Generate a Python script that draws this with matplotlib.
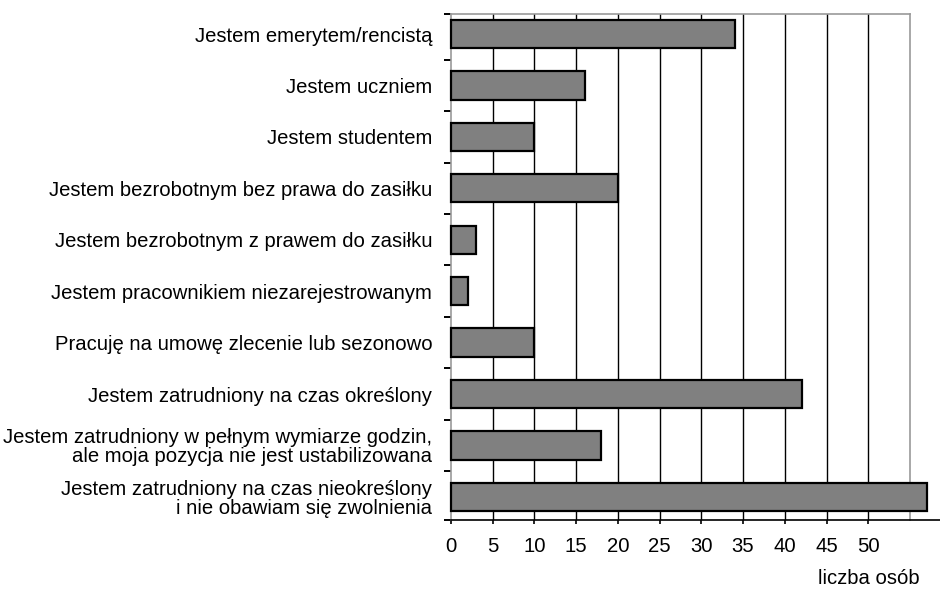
import numpy as np
import matplotlib.pyplot as plt

plt.rcParams['font.family'] = ['Liberation Sans', 'DejaVu Sans']

categories = [
    "Jestem emerytem/rencistą",
    "Jestem uczniem",
    "Jestem studentem",
    "Jestem bezrobotnym bez prawa do zasiłku",
    "Jestem bezrobotnym z prawem do zasiłku",
    "Jestem pracownikiem niezarejestrowanym",
    "Pracuję na umowę zlecenie lub sezonowo",
    "Jestem zatrudniony na czas określony",
    "Jestem zatrudniony w pełnym wymiarze godzin,\nale moja pozycja nie jest ustabilizowana",
    "Jestem zatrudniony na czas nieokreślony\ni nie obawiam się zwolnienia",
]
counts = [34, 16, 10, 20, 3, 2, 10, 42, 18, 57]
xticks = [0, 5, 10, 15, 20, 25, 30, 35, 40, 45, 50]

fig = plt.figure(figsize=(9.4, 5.9), dpi=100)
ax = fig.add_axes([451 / 940, 1 - 520 / 590, 459 / 940, 506 / 590])

y = np.arange(len(categories))
ax.set_xlim(0, 55)
ax.set_ylim(9.45, -0.39)

# vertical grid
for x in xticks[1:]:
    ax.axvline(x, color="black", lw=1.0, zorder=1)

ax.barh(y, counts, height=0.55, color="#808080", edgecolor="black",
        linewidth=1.6, zorder=3, clip_on=False)

for s in ["top", "right", "left"]:
    ax.spines[s].set_color("#999999")
    ax.spines[s].set_linewidth(1.2)
ax.spines["bottom"].set_visible(False)
ax.axhline(9.45, xmin=0, xmax=(940 - 451) / 459, color="black", lw=1.2,
           clip_on=False, zorder=4)

ax.set_xticks(xticks)
ax.set_xticklabels([str(t) for t in xticks], fontsize=14.6)
ax.tick_params(axis="x", length=3, width=1.2, color="black", pad=9)

ax.set_yticks(y)
ax.set_yticklabels(categories, fontsize=14.6, linespacing=1.0)
ax.tick_params(axis="y", which="major", length=0, pad=13.5)
ax.set_yticks([-0.39] + list(np.arange(0.5, 9, 1.0)) + [9.45], minor=True)
ax.tick_params(axis="y", which="minor", length=5, width=1.4, color="black")

fig.text(920 / 940, 1 - 578 / 590, "liczba osób", fontsize=14.6,
         ha="right", va="center")

fig.savefig("out.png", dpi=100)
